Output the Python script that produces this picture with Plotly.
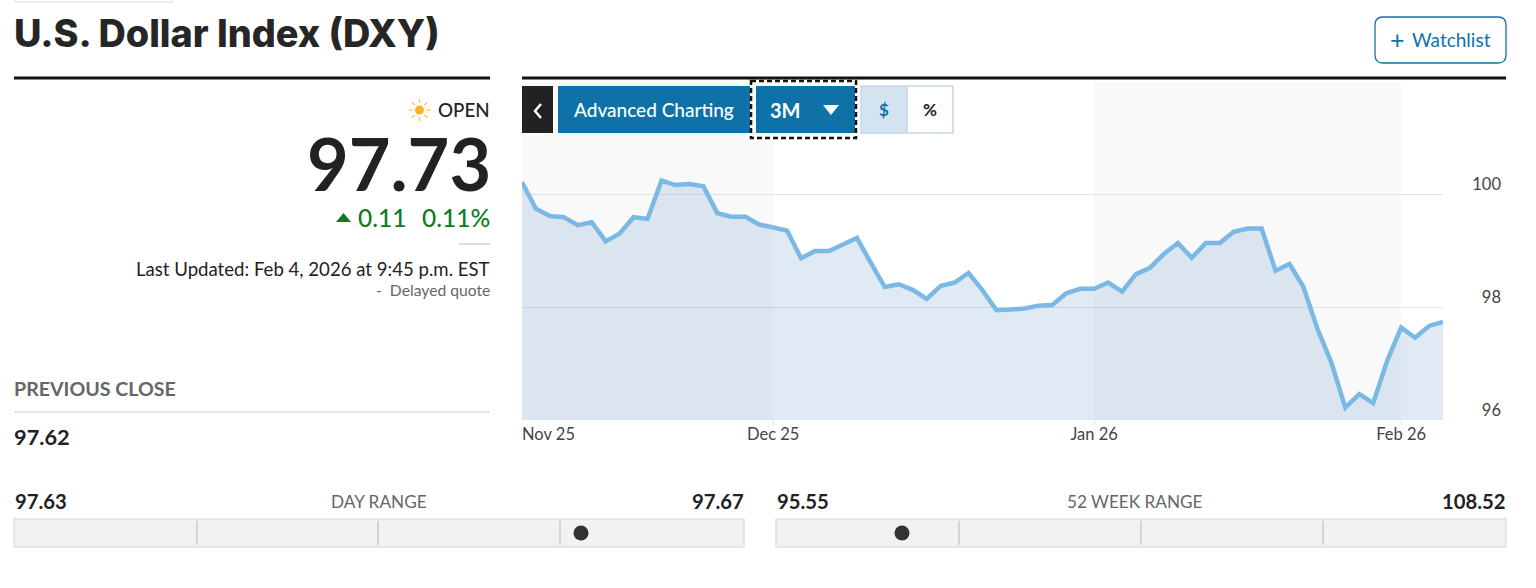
import pandas as pd
import plotly.graph_objects as go

## DATA

# weekday closes, Nov 5 2025 to Feb 5 2026 (UTC)
dates = [d.strftime("%Y-%m-%d") for d in pd.bdate_range("2025-11-05", "2026-02-05")]
dxy_values = [
    100.22, 99.75, 99.62, 99.60, 99.46, 99.51, 99.17, 99.31, 99.60, 99.57,
    100.25, 100.17, 100.19, 100.15, 99.67, 99.61, 99.61, 99.47, 99.42, 99.36,
    98.87, 99.00, 99.00, 99.11, 99.23, 98.79, 98.36, 98.41, 98.31, 98.15,
    98.38, 98.44, 98.61, 98.30, 97.95, 97.96, 97.98, 98.03, 98.04, 98.25,
    98.33, 98.33, 98.44, 98.28, 98.59, 98.70, 98.95, 99.14, 98.88, 99.14,
    99.14, 99.34, 99.40, 99.40, 98.65, 98.77, 98.36, 97.62, 97.02, 96.22,
    96.46, 96.30, 97.05, 97.64, 97.46, 97.67, 97.74,
]
month_ticks = ["2025-12-01", "2026-01-01", "2026-02-02"]
month_labels = ["Dec 25", "Jan 26", "Feb 26"]
first_label = "Nov 25"
y_ticks = [96, 98, 100]
shaded_months = [("2025-11-05", "2025-12-01"), ("2026-01-01", "2026-02-02")]

WIDTH = 1536
HEIGHT = 588
BLUE = "#0e72a8"
DARK = "#222222"
GREY = "#666666"
GREEN = "#0a7d1e"
FONT = "Lato"
MEDIUM = "Lato Medium, Lato"


def px_x(x):
    return x / WIDTH


def px_y(y):
    return 1 - y / HEIGHT


shapes = []
annotations = []


# Box in page pixels
def box(x0, y0, x1, y1, fill="rgba(0,0,0,0)", line="rgba(0,0,0,0)", width=0, dash="solid", kind="rect"):
    shapes.append(dict(type=kind, xref="paper", yref="paper", layer="above",
                       x0=px_x(x0), x1=px_x(x1), y0=px_y(y0), y1=px_y(y1),
                       fillcolor=fill, line=dict(color=line, width=width, dash=dash)))


def hline(x0, x1, y, color, width=1):
    shapes.append(dict(type="line", xref="paper", yref="paper", layer="above",
                       x0=px_x(x0), x1=px_x(x1), y0=px_y(y), y1=px_y(y),
                       line=dict(color=color, width=width)))


def vline(x, y0, y1, color, width=1):
    shapes.append(dict(type="line", xref="paper", yref="paper", layer="above",
                       x0=px_x(x), x1=px_x(x), y0=px_y(y0), y1=px_y(y1),
                       line=dict(color=color, width=width)))


def label(text, x, y, size, color=DARK, anchor="left", weight=400, family=FONT):
    annotations.append(dict(text=text, x=px_x(x), y=px_y(y), xref="paper", yref="paper",
                            xanchor=anchor, yanchor="middle", showarrow=False,
                            font=dict(family=family, size=size, color=color, weight=weight),
                            borderpad=0, borderwidth=0))


## Page header

box(15, -3, 172, 2, line="#dddddd", width=1)
label("U.S. Dollar Index (DXY)", 14, 33, 37.8, color="#262626", weight=800, family="Inter")
shapes.append(dict(type="path", xref="paper", yref="paper", layer="above",
                   path=(f"M {px_x(1383)},{px_y(17)} L {px_x(1498)},{px_y(17)} "
                         f"Q {px_x(1506)},{px_y(17)} {px_x(1506)},{px_y(25)} L {px_x(1506)},{px_y(55)} "
                         f"Q {px_x(1506)},{px_y(63)} {px_x(1498)},{px_y(63)} L {px_x(1383)},{px_y(63)} "
                         f"Q {px_x(1375)},{px_y(63)} {px_x(1375)},{px_y(55)} L {px_x(1375)},{px_y(25)} "
                         f"Q {px_x(1375)},{px_y(17)} {px_x(1383)},{px_y(17)} Z"),
                   line=dict(color=BLUE, width=1.3)))
label("+", 1397, 39, 25, color=BLUE, anchor="center")
label("Watchlist", 1412, 40, 19, color=BLUE)
hline(14, 490, 78, "#111111", 3)
hline(522, 1506, 78, "#111111", 3)

## Quote panel

# sun icon
sun_x, sun_y = 419.5, 110
box(sun_x - 4.5, sun_y - 4.5, sun_x + 4.5, sun_y + 4.5, fill="#fdb022", kind="circle")
for dx, dy in [(0, 1), (1, 0), (0.7, 0.7), (0.7, -0.7)]:
    for sign in [1, -1]:
        shapes.append(dict(type="line", xref="paper", yref="paper", layer="above",
                           x0=px_x(sun_x + sign * dx * 7), y0=px_y(sun_y + sign * dy * 7),
                           x1=px_x(sun_x + sign * dx * 11), y1=px_y(sun_y + sign * dy * 11),
                           line=dict(color="#fcc04f", width=1.3)))
label("OPEN", 490, 109.5, 18.8, family=MEDIUM, anchor="right")
label("97.73", 491, 163, 72, anchor="right", weight=700)
shapes.append(dict(type="path", xref="paper", yref="paper", layer="above",
                   path=f"M {px_x(336)},{px_y(222)} L {px_x(351)},{px_y(222)} L {px_x(343.5)},{px_y(213)} Z",
                   fillcolor=GREEN, line=dict(width=0)))
label("0.11", 358, 217, 24.5, color=GREEN, family=MEDIUM)
label("0.11%", 490, 217, 24.5, color=GREEN, anchor="right", family=MEDIUM)
hline(459, 490, 244, "#bbbbbb", 1)
label("Last Updated: Feb 4, 2026 at 9:45 p.m. EST", 490, 269, 18.6, anchor="right")
label("-  Delayed quote", 490, 289.5, 15.7, color=GREY, anchor="right")
label("PREVIOUS CLOSE", 14, 388.5, 19.6, color=GREY, weight=700)
hline(14, 490, 412, "#dddddd", 1.5)
label("97.62", 14, 436, 21.8, weight=700)

## Chart toolbar

box(522, 86, 553, 133, fill="#222222")
shapes.append(dict(type="path", xref="paper", yref="paper", layer="above",
                   path=f"M {px_x(541)},{px_y(104)} L {px_x(535)},{px_y(111)} L {px_x(541)},{px_y(118)}",
                   line=dict(color="white", width=2.5)))
box(558, 86, 750, 133, fill=BLUE)
label("Advanced Charting", 654, 110, 19, color="white", anchor="center", family=MEDIUM)
box(756, 86, 855, 133, fill=BLUE)
box(751, 81, 856, 138, line="#111111", width=2.5, dash="5px,3px")
label("3M", 785, 110, 20, color="white", anchor="center", weight=700)
shapes.append(dict(type="path", xref="paper", yref="paper", layer="above",
                   path=f"M {px_x(823)},{px_y(105)} L {px_x(839)},{px_y(105)} L {px_x(831)},{px_y(115)} Z",
                   fillcolor="white", line=dict(width=0)))
box(861, 86, 907, 133, fill="#d3e3f0", line="#c5d8e8", width=1.5)
box(907, 86, 953, 133, fill="white", line="#c5d8e8", width=1.5)
label("$", 884, 110, 17, color=BLUE, anchor="center", weight=700)
label("%", 930, 110, 17, color=DARK, anchor="center", weight=700)

## Range bars

ranges = [
    (14, 744, 379, "97.63", "DAY RANGE", "97.67", [197, 378, 560], 581),
    (776, 1506, 1135, "95.55", "52 WEEK RANGE", "108.52", [959, 1141, 1323], 902),
]
for left, right, center, low, name, high, dividers, dot in ranges:
    label(low, left + 1, 501, 20.3, weight=700)
    label(name, center, 501, 17.2, color=GREY, anchor="center")
    label(high, right, 501, 20.3, anchor="right", weight=700)
    box(left, 519, right, 547, fill="#f2f2f2", line="#e0e0e0", width=1.5)
    for divider in dividers:
        vline(divider, 521, 545, "#b5b5b5", 1)
    box(dot - 7.5, 525.5, dot + 7.5, 540.5, fill="#333333", kind="circle")

## Chart

fig = go.Figure()
fig.add_trace(go.Scatter(x=dates, y=dxy_values, mode="lines",
                         line=dict(color="#7ab8e6", width=4.5, shape="linear"),
                         fill="tozeroy", fillcolor="rgba(70,130,190,0.17)",
                         hoverinfo="skip", showlegend=False))

for start, end in shaded_months:
    shapes.append(dict(type="rect", xref="x", yref="y domain", layer="below",
                       x0=start, x1=end, y0=0, y1=1,
                       fillcolor="#f9f9f9", line=dict(width=0)))

# first label starts at the axis edge, so it can't sit centred on a tick
annotations.append(dict(text=first_label, x=dates[0], y=0, xref="x", yref="y domain",
                        xanchor="left", yanchor="top", yshift=-2, xshift=-2, showarrow=False,
                        font=dict(family=FONT, size=16.5, color="#444444")))

fig.update_layout(
    width=WIDTH, height=HEIGHT, margin=dict(l=0, r=0, t=0, b=0),
    paper_bgcolor="white", plot_bgcolor="white", showlegend=False,
    shapes=shapes, annotations=annotations,
    font=dict(family=FONT),
    xaxis=dict(type="category", categoryorder="array", categoryarray=dates,
               domain=[px_x(522), px_x(1443)], range=[0, len(dates) - 1],
               tickmode="array", tickvals=month_ticks, ticktext=month_labels,
               ticks="outside", ticklen=4, tickwidth=1, tickcolor="#dddddd",
               ticklabelstandoff=-5,
               showgrid=False, zeroline=False, showline=False,
               tickfont=dict(family=FONT, size=16.5, color="#444444")),
    yaxis=dict(domain=[px_y(420), px_y(82)], range=[96, 102],
               tickmode="array", tickvals=y_ticks,
               anchor="free", position=px_x(1504), side="right", ticklabelposition="inside",
               ticklabelshift=-10, ticks="", showline=False, zeroline=False,
               showgrid=True, gridcolor="#e2e2e2", gridwidth=1,
               tickfont=dict(family=FONT, size=16.5, color="#444444")),
)

fig.write_html("out.html", config={"displayModeBar": False},
               post_script="document.body.style.margin='0';")
